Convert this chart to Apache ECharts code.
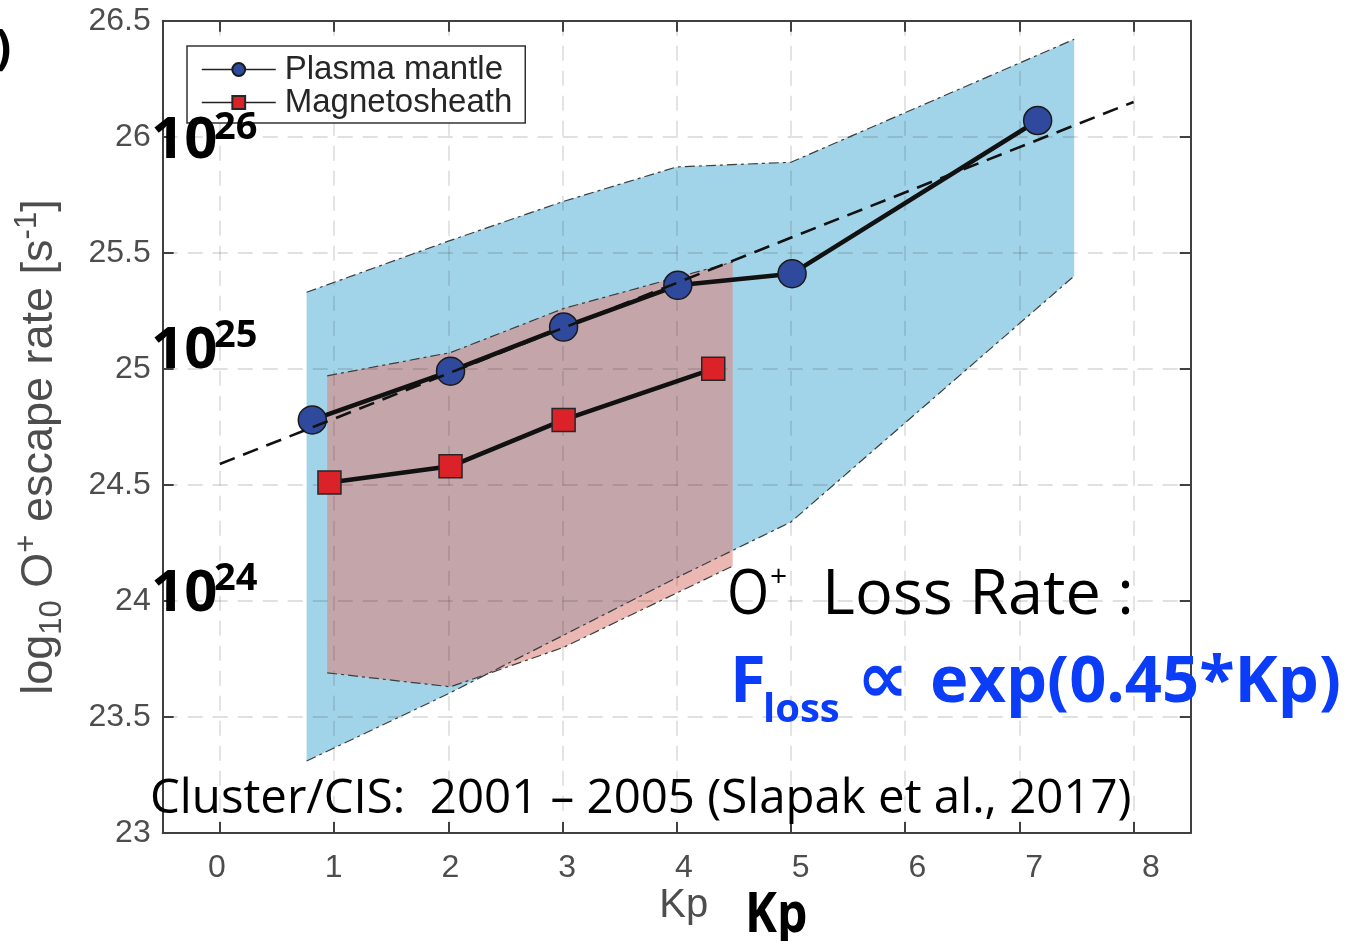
<!DOCTYPE html>
<html>
<head>
<meta charset="utf-8">
<script src="https://cdn.jsdelivr.net/npm/echarts@6/dist/echarts.min.js"></script>
<style>
  html, body { margin: 0; padding: 0; background: #fff; }
  #chart { width: 1357px; height: 941px; }
</style>
</head>
<body>
<div id="chart"></div>
<script>
// Kp tick marks
const kpTicks = [0, 1, 2, 3, 4, 5, 6, 7, 8];

// O+ escape rate (log10, s^-1) per Kp bin
const mantleKp   = [0.81, 2.02, 3.01, 4.01, 5.01, 7.16];
const mantleRate = [24.78, 24.99, 25.18, 25.36, 25.41, 26.07];
const sheathKp   = [0.96, 2.02, 3.01, 4.32];
const sheathRate = [24.51, 24.58, 24.78, 25.00];

// spread envelopes
const mantleBandKp   = [0.76, 2, 3, 4, 5, 7.48];
const mantleBandHigh = [25.33, 25.55, 25.72, 25.87, 25.89, 26.42];
const mantleBandLow  = [23.31, 23.60, 23.85, 24.10, 24.34, 25.40];
const sheathBandKp   = [0.94, 2.02, 3.01, 4.49];
const sheathBandHigh = [24.97, 25.07, 25.26, 25.46];
const sheathBandLow  = [23.69, 23.63, 23.80, 24.15];

// exponential fit, F ~ exp(0.45 Kp)
const fitKp   = [0, 8];
const fitRate = [24.59, 26.15];

const zip = (xs, ys) => xs.map((x, i) => [x, ys[i]]);

function bandRenderer(xs, hi, lo, fill) {
  return function (params, api) {
    const pts = [];
    for (let i = 0; i < xs.length; i++) pts.push(api.coord([xs[i], hi[i]]));
    for (let i = xs.length - 1; i >= 0; i--) pts.push(api.coord([xs[i], lo[i]]));
    return { type: 'polygon', shape: { points: pts }, style: { fill: fill } };
  };
}

const axisInk = '#404040';
const tickFont = { fontFamily: 'Liberation Sans', fontSize: 32, color: '#4d4d4d' };
const gridDash = { color: 'rgba(38,38,38,0.14)', width: 1.8, type: [15, 10] };
const edgeStyle = { color: '#3d3d3d', width: 1.2, type: [10, 4, 3, 4] };

function boxAxis(position, withGrid) {
  return {
    type: 'value', position: position, min: -0.5, max: 8.5, z: 1.2,
    axisLine: { show: true, onZero: false, lineStyle: { color: axisInk, width: 2 } },
    axisTick: { show: true, inside: true, length: 11, customValues: kpTicks,
                lineStyle: { color: axisInk, width: 2 } },
    axisLabel: { show: false },
    splitLine: { show: withGrid, lineStyle: gridDash }
  };
}

function rateAxis(position, withLabels, withGrid) {
  return {
    type: 'value', position: position, min: 23, max: 26.5, interval: 0.5, z: 1.2,
    axisLine: { show: true, onZero: false, lineStyle: { color: axisInk, width: 2 } },
    axisTick: { show: true, inside: true, length: 11, lineStyle: { color: axisInk, width: 2 } },
    axisLabel: Object.assign({ show: withLabels, margin: 12 }, tickFont),
    splitLine: { show: withGrid, lineStyle: gridDash }
  };
}

function txt(text, x, y, size, extra, el) {
  return Object.assign({
    type: 'text', x: x, y: y, z: 100, silent: true,
    style: Object.assign({
      text: text, fontFamily: 'Open Sans', fontSize: size, fill: '#000',
      align: 'left', verticalAlign: 'middle'
    }, extra || {})
  }, el || {});
}

const bold = { fontWeight: 'bold' };
const blue = { fontWeight: 'bold', fill: '#0b3cf8' };

const chart = echarts.init(document.getElementById('chart'), null, { renderer: 'canvas' });
chart.setOption({
  animation: false,
  backgroundColor: '#fff',
  grid: { left: 162.7, top: 20.7, width: 1028, height: 812.3, containLabel: false, outerBoundsMode: 'none' },
  xAxis: [
    Object.assign(boxAxis('bottom', true), {
      name: 'Kp', nameLocation: 'middle', nameGap: 53,
      nameTextStyle: { fontFamily: 'Liberation Sans', fontSize: 40, color: '#4d4d4d', padding: [0, 0, 0, 14] }
    }),
    boxAxis('top', false),
    {
      // tick labels sit on a slightly wider pitch than the tick marks
      type: 'value', position: 'bottom', min: -0.4651, max: 8.34,
      axisLine: { show: false }, axisTick: { show: false }, splitLine: { show: false },
      axisLabel: Object.assign({ show: true, margin: 19, customValues: kpTicks }, tickFont)
    }
  ],
  yAxis: [rateAxis('left', true, true), rateAxis('right', false, false)],
  legend: {
    data: ['Plasma mantle', 'Magnetosheath'],
    orient: 'vertical', left: 187, top: 46,
    itemWidth: 74, itemHeight: 16, itemGap: 0,
    padding: [7, 13, 4, 14],
    borderColor: '#333', borderWidth: 1.5, backgroundColor: '#fff',
    selectedMode: false,
    textStyle: { fontFamily: 'Liberation Sans', fontSize: 33, color: '#262626', lineHeight: 33, padding: [0, 0, 0, 4] },
    lineStyle: { width: 1.5, color: '#222' }
  },
  graphic: [
    txt(')', -5, 50, 48, bold),
    txt('10', 151, 141.5, 58, bold), txt('26', 214, 128, 38, bold),
    txt('10', 151, 351, 58, bold),   txt('25', 214, 336, 38, bold),
    txt('10', 151, 594, 58, bold),   txt('24', 214, 579, 38, bold),
    txt('O', 727, 596, 63, null, { scaleX: 0.86 }), txt('+', 770, 577, 30), txt('Loss Rate :', 822, 596, 63),
    txt('F', 730, 683, 65, blue), txt('loss', 763, 711, 40, blue),
    txt('\u221D', 857, 683, 72, Object.assign({ fontFamily: 'DejaVu Sans' }, blue)),
    txt('exp(0.45*Kp)', 930, 683, 65, blue),
    txt('Cluster/CIS:  2001 \u2013 2005 (Slapak et al., 2017)', 150, 799, 47.4),
    txt('Kp', 745, 916, 56, bold, { scaleX: 0.86 }),
    {
      type: 'text', x: 40, y: 447, rotation: Math.PI / 2, z: 100, silent: true,
      style: {
        text: '{a|log}{sub|10}{a| O}{sup|+}{a| escape rate [s}{sup|-1}{a|]}',
        align: 'center', verticalAlign: 'middle',
        rich: {
          a:   { fontFamily: 'Liberation Sans', fontSize: 45, lineHeight: 56, fill: '#4d4d4d' },
          sub: { fontFamily: 'Liberation Sans', fontSize: 31, lineHeight: 30, verticalAlign: 'bottom', fill: '#4d4d4d' },
          sup: { fontFamily: 'Liberation Sans', fontSize: 31, lineHeight: 30, verticalAlign: 'top', fill: '#4d4d4d' }
        }
      }
    }
  ],
  series: [
    { type: 'custom', name: 'mantle spread', z: 1, silent: true,
      renderItem: bandRenderer(mantleBandKp, mantleBandHigh, mantleBandLow, '#a1d4e8'),
      data: [[mantleBandKp[0], mantleBandHigh[0]]] },
    { type: 'custom', name: 'sheath spread', z: 1, silent: true,
      renderItem: bandRenderer(sheathBandKp, sheathBandHigh, sheathBandLow, 'rgba(220,135,128,0.6)'),
      data: [[sheathBandKp[0], sheathBandHigh[0]]] },
    { type: 'line', z: 1.5, silent: true, symbol: 'none', lineStyle: edgeStyle, data: zip(mantleBandKp, mantleBandHigh) },
    { type: 'line', z: 1.5, silent: true, symbol: 'none', lineStyle: edgeStyle, data: zip(mantleBandKp, mantleBandLow) },
    { type: 'line', z: 1.5, silent: true, symbol: 'none', lineStyle: edgeStyle, data: zip(sheathBandKp, sheathBandHigh) },
    { type: 'line', z: 1.5, silent: true, symbol: 'none', lineStyle: edgeStyle, data: zip(sheathBandKp, sheathBandLow) },
    { type: 'line', name: 'Plasma mantle', z: 4, symbol: 'circle', symbolSize: 28,
      lineStyle: { color: '#111', width: 4.5 },
      itemStyle: { color: '#2f4a9c', borderColor: '#1a1a1a', borderWidth: 1.5 },
      data: zip(mantleKp, mantleRate) },
    { type: 'line', name: 'Magnetosheath', z: 4, symbol: 'rect', symbolSize: 23,
      lineStyle: { color: '#111', width: 4.5 },
      itemStyle: { color: '#da2228', borderColor: '#262626', borderWidth: 1.5 },
      data: zip(sheathKp, sheathRate) },
    { type: 'line', z: 5, silent: true, symbol: 'none',
      lineStyle: { color: '#111', width: 2.6, type: [16, 9] },
      data: zip(fitKp, fitRate) }
  ]
});
</script>
</body>
</html>
